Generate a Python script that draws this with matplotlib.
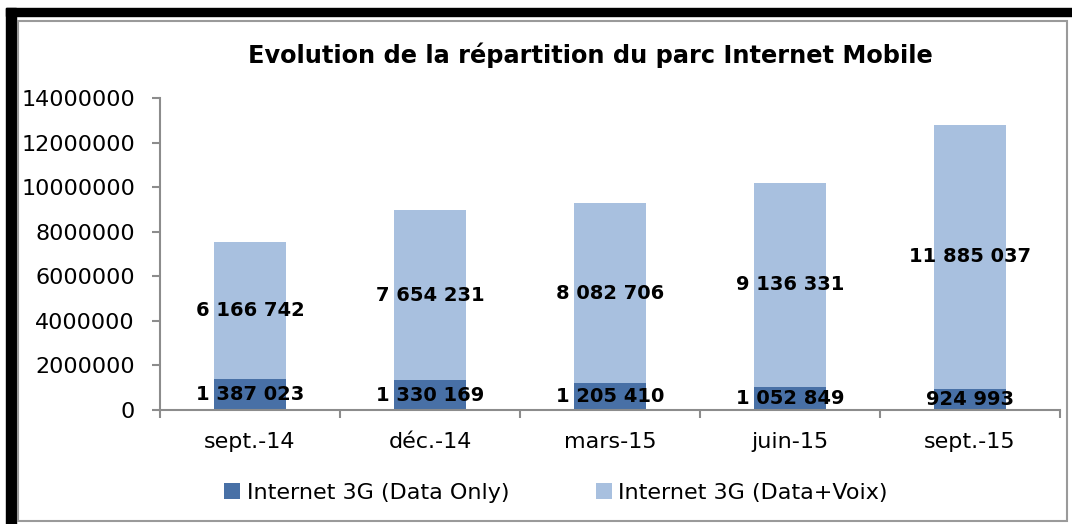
import matplotlib
matplotlib.use("Agg")
import matplotlib.pyplot as plt
from matplotlib.patches import Rectangle
import numpy as np

W, H = 1072, 524

categories = ["sept.-14", "déc.-14", "mars-15", "juin-15", "sept.-15"]
data_only = [1387023, 1330169, 1205410, 1052849, 924993]
data_voix = [6166742, 7654231, 8082706, 9136331, 11885037]
series_names = ["Internet 3G (Data Only)", "Internet 3G (Data+Voix)"]
yticks = [0, 2000000, 4000000, 6000000, 8000000, 10000000, 12000000, 14000000]

dark = "#4870A6"
light = "#A8C0DF"
grey = "#8C8C8C"


def fmt(v):
    return f"{v:,}".replace(",", " ")


def px(x, y, w, h):
    # pixel box (top-left origin) -> figure fraction
    return (x / W, 1 - (y + h) / H, w / W, h / H)


plt.rcParams["font.family"] = "DejaVu Sans"
fig = plt.figure(figsize=(W / 100, H / 100), dpi=100)

# outer black frame + grey chart border
for x, y, w, h in [(6, 8, 1066, 8), (6, 8, 10, 516)]:
    fx, fy, fw, fh = px(x, y, w, h)
    fig.patches.append(Rectangle((fx, fy), fw, fh, transform=fig.transFigure,
                                 color="black", zorder=0))
fx, fy, fw, fh = px(18, 21, 1049, 500)
fig.patches.append(Rectangle((fx, fy), fw, fh, transform=fig.transFigure,
                             fill=False, edgecolor="#9A9A9A", lw=1.5, zorder=0))

ax = fig.add_axes(px(160, 98, 900, 312))
x = np.arange(len(categories))
b1 = ax.bar(x, data_only, width=0.4, color=dark, label=series_names[0])
b2 = ax.bar(x, data_voix, width=0.4, bottom=data_only, color=light,
            label=series_names[1])

for i in range(len(categories)):
    ax.text(x[i], data_only[i] / 2, fmt(data_only[i]), ha="center", va="center",
            fontsize=14, fontweight="bold", color="black")
    ax.text(x[i], data_only[i] + data_voix[i] / 2, fmt(data_voix[i]),
            ha="center", va="center", fontsize=14, fontweight="bold",
            color="black")

ax.set_xlim(-0.5, len(categories) - 0.5)
ax.set_ylim(0, 14000000)
ax.set_yticks(yticks)
ax.set_yticklabels([str(v) for v in yticks], fontsize=16)
ax.set_xticks(x)
ax.set_xticklabels(categories, fontsize=16)
ax.set_xticks(np.arange(len(categories) + 1) - 0.5, minor=True)
ax.tick_params(axis="x", which="major", length=0, pad=16)
ax.tick_params(axis="x", which="minor", length=6, color=grey, width=1.5)
ax.tick_params(axis="y", length=6, color=grey, width=1.5, pad=12)
for s in ["top", "right"]:
    ax.spines[s].set_visible(False)
for s in ["left", "bottom"]:
    ax.spines[s].set_color(grey)
    ax.spines[s].set_linewidth(1.5)

fig.text(590 / W, 1 - 55 / H, "Evolution de la répartition du parc Internet Mobile",
         ha="center", va="center", fontsize=17.3, fontweight="bold")

fig.legend(handles=[b1, b2], labels=series_names, loc="center",
           bbox_to_anchor=(556 / W, 1 - 493 / H), ncol=2, frameon=False,
           fontsize=16, handlelength=0.72, handleheight=0.72,
           handletextpad=0.3, columnspacing=3.9)

fig.savefig("out.png", dpi=100)
